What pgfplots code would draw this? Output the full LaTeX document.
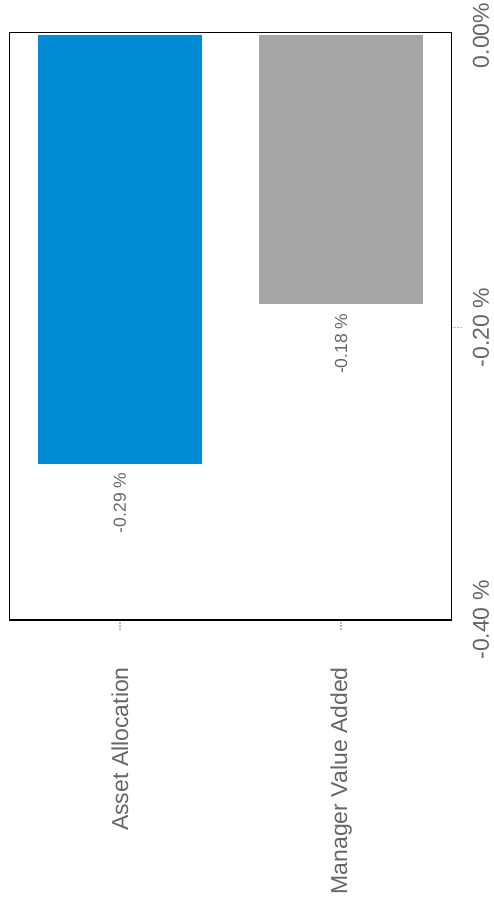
\documentclass[border=0pt]{standalone}
\usepackage{pgfplots}
\pgfplotsset{compat=1.18}
\usepackage{fontspec}
\setmainfont{Liberation Sans}
\definecolor{barblue}{HTML}{008BD5}
\definecolor{bargray}{HTML}{A5A5A5}
\definecolor{txtgray}{HTML}{666666}
\definecolor{tickgray}{HTML}{BBBBBB}
\begin{document}
\begin{tikzpicture}
\path[use as bounding box] (0,0) rectangle (494pt,909pt);
\begin{axis}[
  at={(9.3pt,289pt)}, anchor=south west,
  scale only axis, width=442.4pt, height=587.5pt,
  xmin=-0.5, xmax=1.5, ymin=-0.4, ymax=0.002,
  ybar, bar width=0.742,
  axis line style={black, line width=1.5pt},
  xtick={0,1}, xticklabels={Asset Allocation, Manager Value Added},
  xtick pos=bottom, ytick pos=right, yticklabel pos=right,
  ytick={-0.4,-0.2,0}, yticklabels={-0.40 \%, -0.20 \%, 0.00\%},
  tick align=outside, major tick length=10pt,
  ytick style={draw=none},
  xtick style={draw=tickgray, line width=1.5pt, dash pattern=on 1.5pt off 1.5pt},
  extra y ticks={-0.2}, extra y tick labels={},
  extra y tick style={ytick style={draw=tickgray, line width=1.5pt, dash pattern=on 1.5pt off 1.5pt}},
  tick label style={font=\fontsize{23}{27}\selectfont, text=txtgray},
  yticklabel style={rotate=90, anchor=north, inner sep=0pt},
  xticklabel style={rotate=90, anchor=east, inner sep=0pt},
  xticklabel shift=37pt, yticklabel shift=11pt,
  point meta=explicit symbolic,
  nodes near coords,
  nodes near coords style={rotate=90, anchor=east, inner xsep=9pt, inner ysep=0pt,
    font=\fontsize{17.5}{21}\selectfont, text=txtgray},
]
\addplot[fill=barblue, draw=none, bar shift=0pt] coordinates {(0,-0.293) [-0.29 \%]};
\addplot[fill=bargray, draw=none, bar shift=0pt] coordinates {(1,-0.184) [-0.18 \%]};
\end{axis}
\end{tikzpicture}
\end{document}
